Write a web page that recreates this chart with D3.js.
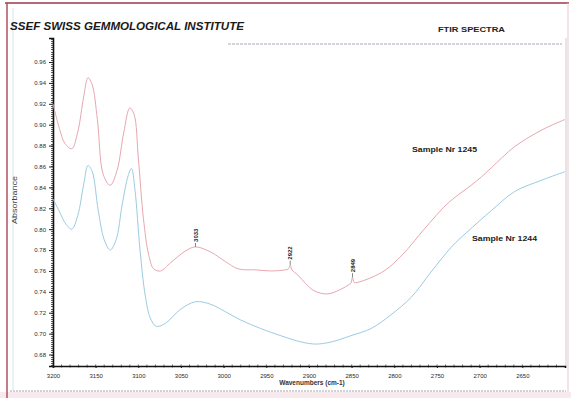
<!DOCTYPE html>
<html>
<head>
<meta charset="utf-8">
<script src="https://cdn.jsdelivr.net/npm/d3@7"></script>
<style>
  html, body { margin: 0; padding: 0; background: #ffffff; }
  svg { display: block; font-family: "Liberation Sans", Arial, sans-serif; }
</style>
</head>
<body>
<svg id="chart" width="571" height="398"></svg>
<script>
// Sample Nr 1245 (upper trace)
const wavenumbers1245 = [3200, 3192, 3186, 3178, 3171, 3164, 3159, 3154, 3148, 3141, 3133, 3125, 3117, 3110, 3105, 3100, 3094, 3088, 3082, 3074, 3062, 3045, 3033, 3015, 2998, 2983, 2962, 2945, 2928, 2924, 2922, 2920, 2913, 2904, 2894, 2878, 2859, 2853, 2851, 2849, 2847, 2839, 2812, 2790, 2765, 2737, 2710, 2698, 2686, 2659, 2627, 2600];
const absorbance1245 = [0.920, 0.895, 0.882, 0.877, 0.893, 0.927, 0.945, 0.938, 0.905, 0.852, 0.842, 0.856, 0.893, 0.916, 0.910, 0.868, 0.810, 0.776, 0.762, 0.760, 0.768, 0.779, 0.783, 0.778, 0.769, 0.762, 0.761, 0.760, 0.761, 0.762, 0.766, 0.761, 0.756, 0.748, 0.741, 0.738, 0.744, 0.747, 0.748, 0.754, 0.749, 0.750, 0.760, 0.776, 0.800, 0.825, 0.842, 0.850, 0.859, 0.879, 0.895, 0.905];

// Sample Nr 1244 (lower trace)
const wavenumbers1244 = [3200, 3192, 3185, 3178, 3171, 3164, 3159, 3154, 3147, 3140, 3133, 3126, 3119, 3112, 3108, 3104, 3098, 3092, 3086, 3079, 3068, 3051, 3033, 3015, 2998, 2980, 2957, 2933, 2909, 2892, 2874, 2851, 2827, 2804, 2780, 2757, 2733, 2715, 2686, 2659, 2627, 2600];
const absorbance1244 = [0.829, 0.816, 0.805, 0.800, 0.813, 0.843, 0.861, 0.855, 0.818, 0.790, 0.780, 0.790, 0.823, 0.851, 0.858, 0.838, 0.780, 0.737, 0.715, 0.707, 0.710, 0.723, 0.7305, 0.728, 0.721, 0.713, 0.705, 0.698, 0.692, 0.690, 0.692, 0.698, 0.705, 0.718, 0.735, 0.759, 0.783, 0.797, 0.818, 0.836, 0.847, 0.855];

// Annotated bands on the upper trace
const peakLabels = [3033, 2922, 2849];

// Axis ticks
const xTicks = [3200, 3150, 3100, 3050, 3000, 2950, 2900, 2850, 2800, 2750, 2700, 2650];
const yTicks = [0.68, 0.70, 0.72, 0.74, 0.76, 0.78, 0.80, 0.82, 0.84, 0.86, 0.88, 0.90, 0.92, 0.94, 0.96];

const svg = d3.select("#chart");

const plot = { left: 53, right: 565, top: 38, bottom: 366 };

const x = d3.scaleLinear().domain([3200, 2600]).range([plot.left, plot.right]);
const y = d3.scaleLinear().domain([0.669, 0.983]).range([plot.bottom, plot.top]);

// Page frame
svg.append("rect").attr("x", 0).attr("y", 392).attr("width", 571).attr("height", 6).attr("fill", "#f7e9ec");
svg.append("line").attr("x1", 5).attr("x2", 569).attr("y1", 3).attr("y2", 3)
  .attr("stroke", "#9a3b4a").attr("stroke-width", 1.5);
svg.append("line").attr("x1", 7).attr("x2", 7).attr("y1", 3).attr("y2", 398)
  .attr("stroke", "#b0505e").attr("stroke-width", 1.5);
svg.append("line").attr("x1", 13).attr("x2", 13).attr("y1", 8).attr("y2", 390)
  .attr("stroke", "#d8e4ea").attr("stroke-width", 1);
svg.append("line").attr("x1", 568).attr("x2", 568).attr("y1", 3).attr("y2", 392)
  .attr("stroke", "#e8c8ce").attr("stroke-width", 1);
svg.append("line").attr("x1", 10).attr("x2", 566).attr("y1", 391).attr("y2", 391)
  .attr("stroke", "#9aa8b0").attr("stroke-width", 1).attr("stroke-dasharray", "2,1");

// Header
svg.append("text").attr("x", 10).attr("y", 30)
  .attr("font-size", 11).attr("font-weight", "bold").attr("font-style", "italic")
  .attr("fill", "#1a1a1a").attr("textLength", 234).attr("lengthAdjust", "spacingAndGlyphs")
  .text("SSEF SWISS GEMMOLOGICAL INSTITUTE");
svg.append("text").attr("x", 438).attr("y", 32)
  .attr("font-size", 7.5).attr("font-weight", "bold").attr("fill", "#222")
  .attr("textLength", 67).attr("lengthAdjust", "spacingAndGlyphs")
  .text("FTIR SPECTRA");
svg.append("line").attr("x1", 228).attr("x2", 562).attr("y1", 44).attr("y2", 44)
  .attr("stroke", "#a4aab4").attr("stroke-width", 1).attr("stroke-dasharray", "3,1");

// Right edge of the plot
svg.append("line").attr("x1", plot.right + 1).attr("x2", plot.right + 1)
  .attr("y1", plot.top).attr("y2", plot.bottom)
  .attr("stroke", "#cccccc").attr("stroke-width", 1);

// Y axis with dense minor ticks
const yAxis = svg.append("g").attr("transform", `translate(${plot.left},0)`);
const yMinor = d3.range(0.670, 0.983, 0.002);
yAxis.selectAll("line.minor").data(yMinor).join("line")
  .attr("class", "minor")
  .attr("x1", -2).attr("x2", 0)
  .attr("y1", d => Math.round(y(d)) + 0.5).attr("y2", d => Math.round(y(d)) + 0.5)
  .attr("stroke", "#333").attr("stroke-width", 0.8);
yAxis.call(d3.axisLeft(y).tickValues(yTicks).tickFormat(d3.format(".2f")).tickSize(4).tickPadding(3))
  .call(g => g.select(".domain").attr("stroke", "#111").attr("stroke-width", 1.6))
  .call(g => g.selectAll(".tick line").attr("stroke", "#222"))
  .call(g => g.selectAll(".tick text").attr("font-size", 6).attr("fill", "#2a2a2a")
    .attr("font-family", "Liberation Sans, Arial, sans-serif"));

// X axis with minor ticks
const xAxis = svg.append("g").attr("transform", `translate(0,${plot.bottom})`);
const xMinor = d3.range(3200, 2600, -10);
xAxis.selectAll("line.minor").data(xMinor).join("line")
  .attr("class", "minor")
  .attr("x1", d => x(d)).attr("x2", d => x(d))
  .attr("y1", -1.5).attr("y2", 1.5)
  .attr("stroke", "#333").attr("stroke-width", 0.7);
xAxis.call(d3.axisBottom(x).tickValues(xTicks).tickFormat(d3.format("d")).tickSize(2).tickPadding(6))
  .call(g => g.select(".domain").attr("stroke", "#111").attr("stroke-width", 1.6))
  .call(g => g.selectAll(".tick line").attr("stroke", "#222"))
  .call(g => g.selectAll(".tick text").attr("font-size", 6).attr("fill", "#2a2a2a")
    .attr("font-family", "Liberation Sans, Arial, sans-serif"));

// Axis titles
svg.append("text").attr("x", 312).attr("y", 385).attr("text-anchor", "middle")
  .attr("font-size", 6.5).attr("font-weight", "bold").attr("fill", "#333")
  .text("Wavenumbers (cm-1)");
svg.append("text").attr("transform", "translate(17,200) rotate(-90)").attr("text-anchor", "middle")
  .attr("font-size", 6.5).attr("fill", "#444").attr("textLength", 48).attr("lengthAdjust", "spacingAndGlyphs")
  .text("Absorbance");

// Spectra
const line = d3.line().x(d => x(d[0])).y(d => y(d[1])).curve(d3.curveCatmullRom.alpha(0.5));
const series1245 = wavenumbers1245.map((w, i) => [w, absorbance1245[i]]);
const series1244 = wavenumbers1244.map((w, i) => [w, absorbance1244[i]]);

svg.append("path").datum(series1244).attr("d", line)
  .attr("fill", "none").attr("stroke", "#9ccbe2").attr("stroke-width", 1);
svg.append("path").datum(series1245).attr("d", line)
  .attr("fill", "none").attr("stroke", "#e8a6b0").attr("stroke-width", 1);

// Band annotations on Sample Nr 1245
const peaks = svg.append("g");
peakLabels.forEach(w => {
  const i = wavenumbers1245.indexOf(w);
  const py = y(absorbance1245[i]);
  peaks.append("line").attr("x1", x(w)).attr("x2", x(w)).attr("y1", py).attr("y2", py - 4)
    .attr("stroke", "#666").attr("stroke-width", 0.8);
  peaks.append("text")
    .attr("transform", `translate(${x(w)},${py - 5}) rotate(-90)`)
    .attr("dy", "0.35em")
    .attr("font-size", 6).attr("font-weight", "bold").attr("fill", "#222")
    .text(w);
});

// Series labels
svg.append("text").attr("x", 412).attr("y", 152)
  .attr("font-size", 6.5).attr("fill", "#222").attr("font-weight", "bold")
  .attr("textLength", 65).attr("lengthAdjust", "spacingAndGlyphs")
  .text("Sample Nr  1245");
svg.append("text").attr("x", 472).attr("y", 241)
  .attr("font-size", 6.5).attr("fill", "#222").attr("font-weight", "bold")
  .attr("textLength", 65).attr("lengthAdjust", "spacingAndGlyphs")
  .text("Sample Nr  1244");
</script>
</body>
</html>
